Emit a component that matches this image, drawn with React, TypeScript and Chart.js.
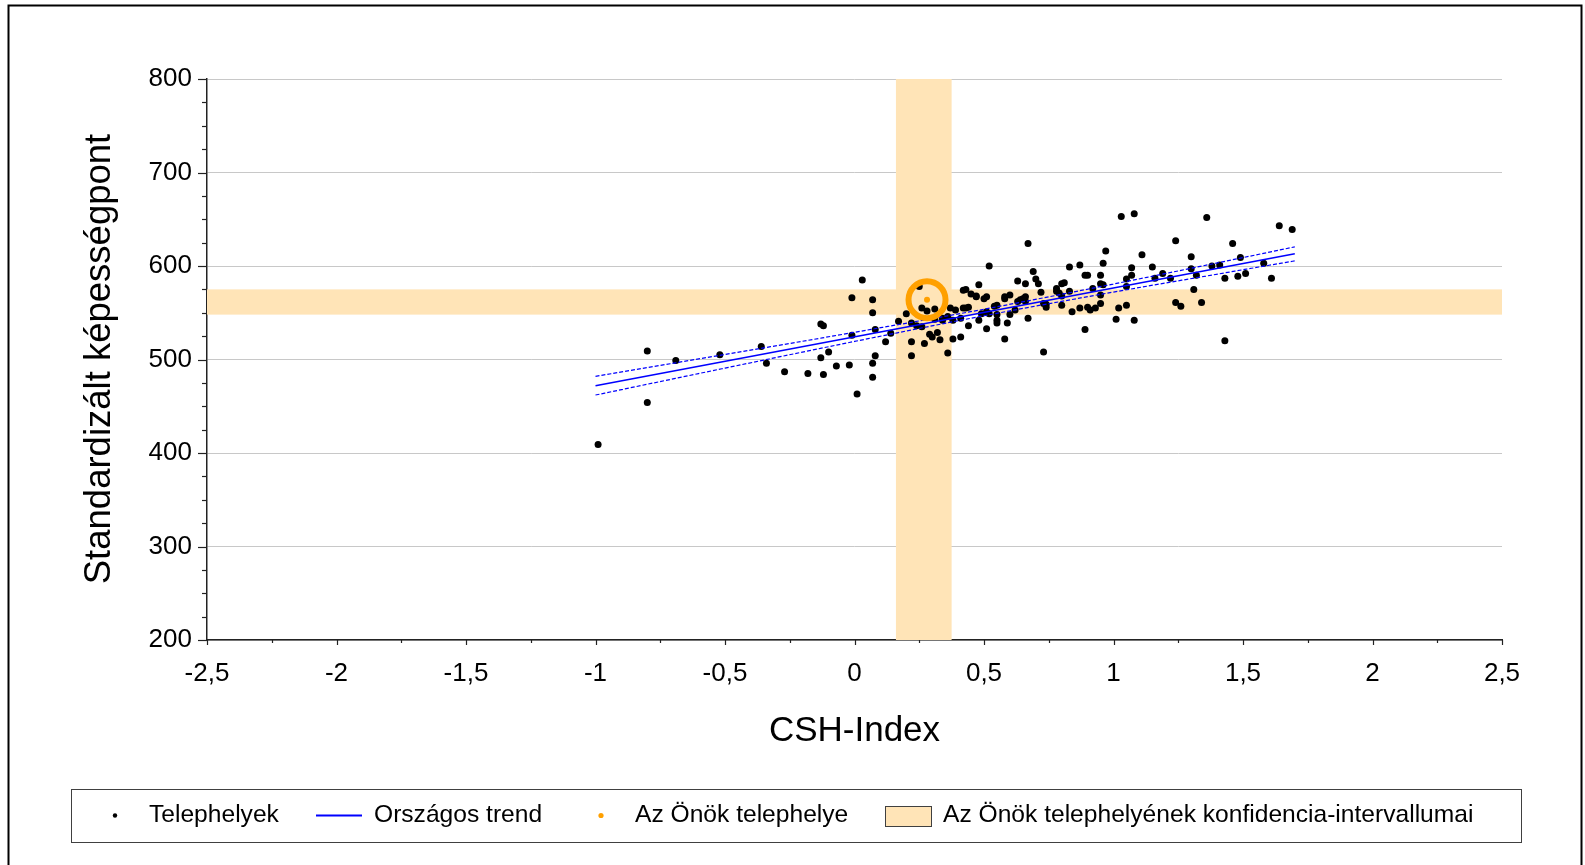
import React, { useEffect, useRef } from 'react';
import { Chart, registerables } from 'chart.js';
Chart.register(...registerables);

// ---- data ----
const pointsX = [
  -0.99, -0.80, -0.80, -0.69, -0.52, -0.36, -0.34, -0.27, -0.18, -0.12,
  -0.13, -0.12, -0.13, -0.10, -0.07, -0.02, -0.01, 0.03, -0.01, 0.01,
  0.07, 0.07, 0.08, 0.08, 0.07, 0.07, 0.12, 0.14, 0.17, 0.20,
  0.22, 0.22, 0.22, 0.25, 0.24, 0.26, 0.26, 0.28, 0.31, 0.27,
  0.29, 0.30, 0.32, 0.33, 0.34, 0.36, 0.37, 0.36, 0.38, 0.38,
  0.39, 0.41, 0.41, 0.42, 0.43, 0.42, 0.44, 0.44, 0.45, 0.47,
  0.48, 0.48, 0.49, 0.50, 0.51, 0.51, 0.52, 0.52, 0.54, 0.55,
  0.55, 0.55, 0.58, 0.58, 0.58, 0.59, 0.60, 0.60, 0.62, 0.63,
  0.64, 0.65, 0.66, 0.66, 0.67, 0.67, 0.69, 0.70, 0.71, 0.72,
  0.73, 0.73, 0.74, 0.78, 0.78, 0.80, 0.81, 0.80, 0.80, 0.83,
  0.83, 0.84, 0.87, 0.87, 0.89, 0.89, 0.90, 0.90, 0.91, 0.92,
  0.93, 0.95, 0.95, 0.96, 0.95, 0.95, 0.96, 0.97, 1.01, 1.02,
  1.03, 1.05, 1.05, 1.05, 1.07, 1.07, 1.08, 1.08, 1.11, 1.15,
  1.16, 1.19, 1.22, 1.24, 1.24, 1.26, 1.30, 1.30, 1.31, 1.32,
  1.34, 1.36, 1.38, 1.41, 1.43, 1.43, 1.46, 1.48, 1.49, 1.51,
  1.58, 1.61, 1.64, 1.69, 0.63, 0.79, 0.74, 0.31, 0.66, 0.51,
  0.55, 0.34, 0.43, 0.47
];
const pointsY = [
  409, 509, 454, 499, 505, 514, 496, 487, 485, 484,
  538, 536, 502, 508, 493, 494, 566, 585, 526, 463,
  564, 550, 532, 504, 496, 481, 519, 528, 541, 549,
  539, 519, 504, 578, 536, 535, 555, 552, 554, 517,
  527, 524, 529, 521, 544, 546, 555, 507, 522, 542,
  553, 524, 544, 574, 575, 555, 556, 536, 570, 567,
  580, 542, 549, 565, 567, 533, 600, 549, 557, 548,
  542, 539, 565, 567, 522, 539, 569, 548, 553, 584,
  564, 565, 567, 581, 624, 544, 594, 586, 581, 572,
  508, 560, 556, 573, 576, 581, 582, 568, 558, 599,
  573, 551, 601, 555, 532, 590, 590, 556, 553, 576,
  555, 590, 581, 580, 569, 560, 603, 616, 543, 555,
  653, 558, 578, 586, 590, 598, 542, 656, 612, 599,
  587, 592, 587, 627, 561, 557, 610, 597, 575, 590,
  561, 652, 600, 601, 587, 520, 624, 589, 609, 592,
  603, 587, 643, 639, 562, 571, 559, 543, 562, 551,
  558, 542, 555, 568
];
const ownX = [0.28];
const ownY = [564];
const trendX = [-1, 1.7];
const trendY = [472, 613];
const ciX = [-1, -0.5, 0, 0.5, 1, 1.5, 1.7];
const ciUpper = [482, 505.4, 529.1, 553.8, 580.7, 609, 620.5];
const ciLower = [462, 490.8, 519.3, 546.8, 572.1, 596, 605.5];
const bandX = [0.16, 0.375];
const bandY = [548, 575];
const xTickValues = [-2.5, -2, -1.5, -1, -0.5, 0, 0.5, 1, 1.5, 2, 2.5];
const xTickLabels = ['-2,5', '-2', '-1,5', '-1', '-0,5', '0', '0,5', '1', '1,5', '2', '2,5'];
const yTickValues = [200, 300, 400, 500, 600, 700, 800];
const yTickLabels = ['200', '300', '400', '500', '600', '700', '800'];
const legendLabels = [
  'Telephelyek',
  'Országos trend',
  'Az Önök telephelye',
  'Az Önök telephelyének konfidencia-intervallumai',
];
const xTitle = 'CSH-Index';
const yTitle = 'Standardizált képességpont';

const FONT = "'Liberation Sans', Arial, sans-serif";
const BAND = 'rgb(255,228,183)';
const ORANGE = '#ffa000';
const BLUE = '#0000ff';

const decor = {
  id: 'decor',
  beforeDraw(chart: any) {
    const { ctx, width, height } = chart;
    ctx.save();
    ctx.fillStyle = '#ffffff';
    ctx.fillRect(0, 0, width, height);
    ctx.restore();
  },
  beforeDatasetsDraw(chart: any) {
    const { ctx, chartArea, scales } = chart;
    const xs = scales.x, ys = scales.y;
    ctx.save();
    ctx.beginPath();
    ctx.rect(chartArea.left, chartArea.top, chartArea.right - chartArea.left, chartArea.bottom - chartArea.top);
    ctx.clip();
    ctx.fillStyle = BAND;
    const x0 = xs.getPixelForValue(bandX[0]);
    const x1 = xs.getPixelForValue(bandX[1]);
    ctx.fillRect(x0, chartArea.top, x1 - x0, chartArea.bottom - chartArea.top);
    const y0 = ys.getPixelForValue(bandY[1]);
    const y1 = ys.getPixelForValue(bandY[0]);
    ctx.fillRect(chartArea.left, y0, chartArea.right - chartArea.left, y1 - y0);
    ctx.restore();
  },
  afterDraw(chart: any) {
    const { ctx, chartArea, scales } = chart;
    const xs = scales.x, ys = scales.y;
    ctx.save();
    // axis ticks
    ctx.strokeStyle = '#222';
    ctx.lineWidth = 1.2;
    for (let v = 200; v <= 800; v += 25) {
      const y = Math.round(ys.getPixelForValue(v)) + 0.5;
      const len = v % 100 === 0 ? 9 : 5;
      ctx.beginPath();
      ctx.moveTo(chartArea.left, y);
      ctx.lineTo(chartArea.left - len, y);
      ctx.stroke();
    }
    for (let i = 0; i <= 20; i++) {
      const v = -2.5 + i * 0.25;
      const x = Math.round(xs.getPixelForValue(v)) + 0.5;
      const len = i % 2 === 0 ? 5 : 3;
      ctx.beginPath();
      ctx.moveTo(x, chartArea.bottom);
      ctx.lineTo(x, chartArea.bottom + len);
      ctx.stroke();
    }
    // titles
    ctx.fillStyle = '#000';
    ctx.textAlign = 'center';
    ctx.textBaseline = 'middle';
    ctx.font = `35px ${FONT}`;
    ctx.fillText(xTitle, (chartArea.left + chartArea.right) / 2, 731);
    ctx.save();
    ctx.font = `36.5px ${FONT}`;
    ctx.translate(100, 359);
    ctx.rotate(-Math.PI / 2);
    ctx.fillText(yTitle, 0, 0);
    ctx.restore();
    // legend
    ctx.strokeStyle = '#404040';
    ctx.lineWidth = 1;
    ctx.strokeRect(71.5, 789.5, 1450, 53);
    const cy = 815.5;
    ctx.font = `24.6px ${FONT}`;
    ctx.textAlign = 'left';
    ctx.textBaseline = 'middle';
    ctx.fillStyle = '#000';
    ctx.beginPath();
    ctx.arc(115, cy, 2.2, 0, Math.PI * 2);
    ctx.fill();
    ctx.fillText(legendLabels[0], 149, cy);
    ctx.strokeStyle = BLUE;
    ctx.lineWidth = 2;
    ctx.beginPath();
    ctx.moveTo(316, cy);
    ctx.lineTo(362, cy);
    ctx.stroke();
    ctx.fillText(legendLabels[1], 374, cy);
    ctx.fillStyle = ORANGE;
    ctx.beginPath();
    ctx.arc(601, cy, 2.6, 0, Math.PI * 2);
    ctx.fill();
    ctx.fillStyle = '#000';
    ctx.fillText(legendLabels[2], 635, cy);
    ctx.fillStyle = BAND;
    ctx.fillRect(885.5, 806.5, 46, 20);
    ctx.strokeStyle = '#404040';
    ctx.lineWidth = 1;
    ctx.strokeRect(885.5, 806.5, 46, 20);
    ctx.fillStyle = '#000';
    ctx.fillText(legendLabels[3], 943, cy);
    // outer frame
    ctx.strokeStyle = '#000';
    ctx.lineWidth = 2;
    ctx.strokeRect(8.5, 5.5, 1573, 900);
    ctx.restore();
  },
};

export default function App() {
  const ref = useRef<HTMLCanvasElement>(null);
  useEffect(() => {
    Chart.defaults.font.family = FONT;
    const pts = pointsX.map((x, i) => ({ x, y: pointsY[i] }));
    const own = ownX.map((x, i) => ({ x, y: ownY[i] }));
    const trend = trendX.map((x, i) => ({ x, y: trendY[i] }));
    const up = ciX.map((x, i) => ({ x, y: ciUpper[i] }));
    const lo = ciX.map((x, i) => ({ x, y: ciLower[i] }));
    const chart = new Chart(ref.current as HTMLCanvasElement, {
      type: 'scatter',
      data: {
        datasets: [
          {
            label: 'ring',
            data: own,
            pointRadius: 18.5,
            pointBorderWidth: 6,
            borderColor: ORANGE,
            backgroundColor: 'rgba(0,0,0,0)',
          } as any,
          {
            label: legendLabels[2],
            data: own,
            pointRadius: 3,
            borderWidth: 0,
            backgroundColor: ORANGE,
          } as any,
          {
            label: legendLabels[1],
            data: trend,
            showLine: true,
            pointRadius: 0,
            borderColor: BLUE,
            borderWidth: 1.5,
          } as any,
          {
            label: 'upper',
            data: up,
            showLine: true,
            pointRadius: 0,
            borderColor: BLUE,
            borderWidth: 1.2,
            borderDash: [4, 2],
            cubicInterpolationMode: 'monotone',
          } as any,
          {
            label: 'lower',
            data: lo,
            showLine: true,
            pointRadius: 0,
            borderColor: BLUE,
            borderWidth: 1.2,
            borderDash: [4, 2],
            cubicInterpolationMode: 'monotone',
          } as any,
          {
            label: legendLabels[0],
            data: pts,
            pointRadius: 3.5,
            borderWidth: 0,
            backgroundColor: '#000',
          } as any,
        ],
      },
      options: {
        animation: false,
        responsive: true,
        maintainAspectRatio: false,
        devicePixelRatio: 1,
        events: [],
        layout: { padding: { top: 79, right: 83, left: 0, bottom: 0 } },
        plugins: { legend: { display: false }, tooltip: { enabled: false }, title: { display: false } },
        scales: {
          x: {
            type: 'linear',
            min: -2.5,
            max: 2.5,
            afterFit: (s: any) => { s.height = 225; },
            ticks: {
              stepSize: 0.5,
              padding: 18,
              color: '#000',
              font: { size: 26, family: FONT },
              maxRotation: 0,
              autoSkip: false,
              callback: (v: any) => {
                const i = xTickValues.findIndex((t) => Math.abs(t - Number(v)) < 1e-6);
                return i >= 0 ? xTickLabels[i] : '';
              },
            },
            grid: { display: false, drawTicks: false },
            border: { display: true, color: '#222', width: 1.5 },
          },
          y: {
            type: 'linear',
            min: 200,
            max: 800,
            afterFit: (s: any) => { s.width = 207; },
            ticks: {
              stepSize: 100,
              padding: 15,
              color: '#000',
              font: { size: 26, family: FONT },
              callback: (v: any) => {
                const i = yTickValues.findIndex((t) => Math.abs(t - Number(v)) < 1e-6);
                return i >= 0 ? yTickLabels[i] : '';
              },
            },
            grid: { display: true, drawTicks: false, color: '#c8c8c8', lineWidth: 1 },
            border: { display: true, color: '#222', width: 1.5 },
          },
        },
      } as any,
      plugins: [decor],
    });
    return () => chart.destroy();
  }, []);
  return (
    <div style={{ position: 'absolute', left: 0, top: 0, width: 1585, height: 865, background: '#fff' }}>
      <canvas ref={ref} />
    </div>
  );
}
